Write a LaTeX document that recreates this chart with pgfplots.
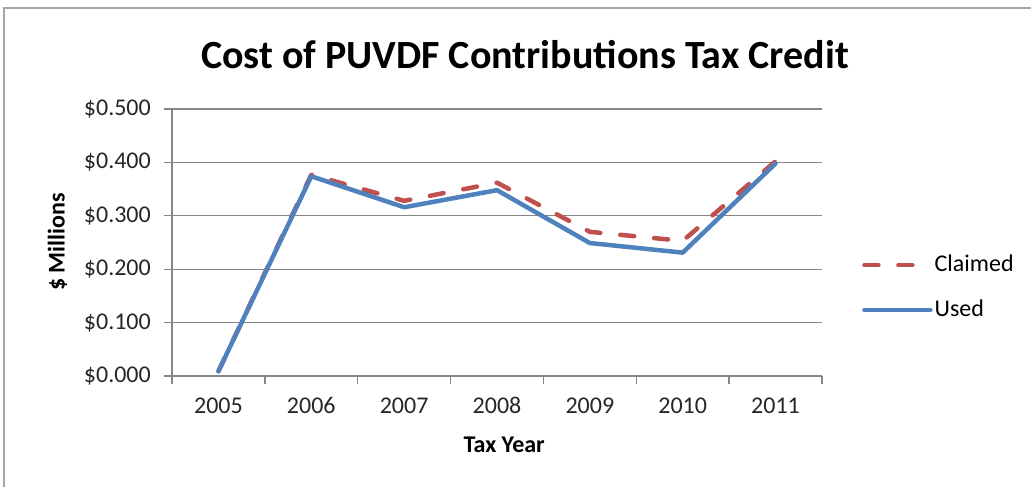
\documentclass[border=0pt]{standalone}
\usepackage{pgfplots}
\pgfplotsset{compat=1.18}
\usepackage{fontspec}
\setmainfont{Carlito}
\definecolor{claimed}{HTML}{C0504D}
\definecolor{used}{HTML}{4F81BD}
\definecolor{axgray}{HTML}{868686}
\begin{document}
\begin{tikzpicture}
\path[use as bounding box] (0pt,0pt) rectangle (1031pt,487pt);
\draw[color=gray!70, line width=2.5pt] (4pt,0pt) -- (4pt,479pt) -- (1035pt,479pt);
\begin{axis}[
  at={(172pt,111pt)}, anchor=south west,
  scale only axis, width=650pt, height=267pt,
  xmin=-0.5, xmax=6.5, ymin=0, ymax=0.5,
  clip=false,
  axis x line*=bottom, axis y line*=left,
  axis line style={draw=axgray, line width=1.3pt},
  ymajorgrids, grid style={draw=axgray, line width=1.3pt},
  tick align=outside,
  xtick={0,1,2,3,4,5,6},
  xticklabels={2005,2006,2007,2008,2009,2010,2011},
  minor xtick={-0.5,0.5,1.5,2.5,3.5,4.5,5.5,6.5},
  major x tick style={draw=none},
  minor tick length=8pt,
  major tick length=8pt,
  minor x tick style={draw=axgray, line width=1.3pt},
  major y tick style={draw=axgray, line width=1.3pt},
  ytick={0,0.1,0.2,0.3,0.4,0.5},
  /pgf/number format/assume math mode=true,
  yticklabel={\$\pgfmathprintnumber[fixed,fixed zerofill,precision=3]{\tick}},
  tick label style={font=\fontsize{24}{28}\selectfont, text=black!85},
  x tick label style={anchor=base, inner sep=0pt, yshift=-30pt},
  y tick label style={anchor=east, inner sep=0pt, xshift=-13pt},
  title={Cost of PUVDF Contributions Tax Credit},
  title style={at={(0.543,1.183)}, anchor=center, font=\bfseries\fontsize{40}{46}\selectfont},
  xlabel={Tax Year},
  xlabel style={at={(0.511,-0.258)}, anchor=center, font=\bfseries\fontsize{24}{28}\selectfont},
  ylabel={\$ Millions},
  ylabel style={at={(-0.176,0.502)}, anchor=center, font=\bfseries\fontsize{24}{28}\selectfont},
  legend cell align=left,
  legend style={at={(1.0615,0.331)}, anchor=west, draw=none, fill=none, inner sep=0pt,
    font=\fontsize{24}{28}\selectfont, row sep=23pt, column sep=2pt,
    nodes={inner sep=0pt, text height=17pt, text depth=5pt}},
  legend image code/.code={\draw[#1] (0pt,0pt) -- (66pt,0pt);},
]
\addplot[claimed, line width=4.5pt, line cap=round, line join=round, dash pattern=on 14pt off 20pt]
  coordinates {(0,0.009) (1,0.377) (2,0.328) (3,0.362) (4,0.270) (5,0.253) (6,0.402)};
\addlegendentry{Claimed}
\addplot[used, line width=4.5pt, line cap=round, line join=round]
  coordinates {(0,0.009) (1,0.374) (2,0.316) (3,0.348) (4,0.249) (5,0.231) (6,0.398)};
\addlegendentry{Used}
\end{axis}
\end{tikzpicture}
\end{document}
